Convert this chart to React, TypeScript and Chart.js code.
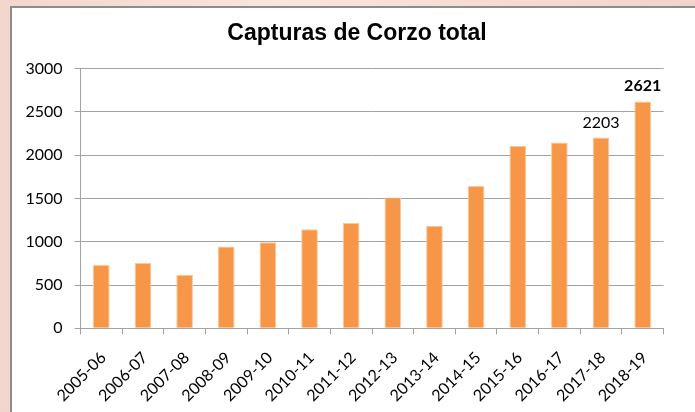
import React, { useEffect, useRef } from "react";
import { Chart, registerables } from "chart.js";

Chart.register(...registerables);

const chartTitle = "Capturas de Corzo total";
const categories = [
  "2005-06", "2006-07", "2007-08", "2008-09", "2009-10", "2010-11", "2011-12",
  "2012-13", "2013-14", "2014-15", "2015-16", "2016-17", "2017-18", "2018-19",
];
const captures = [730, 755, 620, 945, 995, 1145, 1215, 1510, 1185, 1645, 2105, 2145, 2203, 2621];
const yTicks = [0, 500, 1000, 1500, 2000, 2500, 3000];
const labeledIndices = [12, 13];
const boldIndices = [13];

const valueLabels = {
  id: "valueLabels",
  afterDatasetsDraw(chart: any) {
    const meta = chart.getDatasetMeta(0);
    const ctx = chart.ctx;
    ctx.save();
    ctx.textAlign = "center";
    ctx.textBaseline = "alphabetic";
    ctx.fillStyle = "#000";
    labeledIndices.forEach((i) => {
      const el = meta.data[i];
      ctx.font = `${boldIndices.includes(i) ? "bold " : ""}16px Lato`;
      ctx.fillText(String(captures[i]), el.x, el.y - 10);
    });
    ctx.restore();
  },
};

export default function App() {
  const ref = useRef<HTMLCanvasElement | null>(null);
  useEffect(() => {
    if (!ref.current) return;
    const grid = "#A3A3A3";
    const chart = new Chart(ref.current, {
      type: "bar",
      data: {
        labels: categories,
        datasets: [
          {
            data: captures,
            backgroundColor: "#F79646",
            borderColor: "#FBC79C",
            borderWidth: 1,
            categoryPercentage: 1,
            barPercentage: 0.4,
            yAxisID: "y",
          },
        ],
      },
      options: {
        responsive: false,
        animation: false,
        layout: { padding: { left: 19, right: 0, top: 0, bottom: 0 } },
        plugins: {
          legend: { display: false },
          tooltip: { enabled: false },
          title: {
            display: true,
            text: chartTitle,
            color: "#000",
            font: { family: "Liberation Sans", weight: "bold", size: 23 },
            padding: { top: 20, bottom: 21 },
          },
        },
        scales: {
          x: {
            grid: {
              display: true,
              drawOnChartArea: false,
              drawTicks: true,
              tickLength: 6,
              color: grid,
              offset: true,
            },
            border: { display: true, color: grid },
            ticks: {
              autoSkip: false,
              maxRotation: 45,
              minRotation: 45,
              padding: 14,
              labelOffset: 2,
              color: "#000",
              font: { family: "Lato", size: 16 },
            },
            afterFit(scale: any) {
              scale.height = 83.7;
            },
          },
          y: {
            min: 0,
            max: 3000,
            grid: { color: grid, tickLength: 6 },
            border: { display: true, color: grid },
            ticks: {
              padding: 12,
              color: "#000",
              font: { family: "Lato", size: 16 },
              callback: (v: any) => String(v),
            },
            afterBuildTicks(scale: any) {
              scale.ticks = yTicks.map((v) => ({ value: v }));
            },
            afterFit(scale: any) {
              scale.width = 61.5;
            },
          },
          spacer: {
            type: "linear",
            position: "right",
            display: true,
            grid: { display: false, drawTicks: false },
            border: { display: false },
            ticks: { display: false },
            afterFit(scale: any) {
              scale.width = 31.5;
            },
          },
        },
      },
      plugins: [valueLabels],
    });
    return () => chart.destroy();
  }, []);

  return (
    <div
      style={{
        position: "fixed",
        left: 0,
        top: 0,
        width: 695,
        height: 412,
        overflow: "hidden",
        background: "linear-gradient(90deg, #f2d6cc 0%, #f8e6df 40%, #f6dcd3 70%, #f3d3c9 100%)",
      }}
    >
      <div
        style={{
          position: "absolute",
          left: 10,
          top: 6,
          width: 685,
          height: 406,
          boxSizing: "border-box",
          background: "#fff",
          borderLeft: "2px solid #8c8c8c",
          borderTop: "2px solid #8c8c8c",
        }}
      />
      <canvas
        ref={ref}
        width={695}
        height={412}
        style={{ position: "absolute", left: 0, top: 0, width: 695, height: 412 }}
      />
    </div>
  );
}
